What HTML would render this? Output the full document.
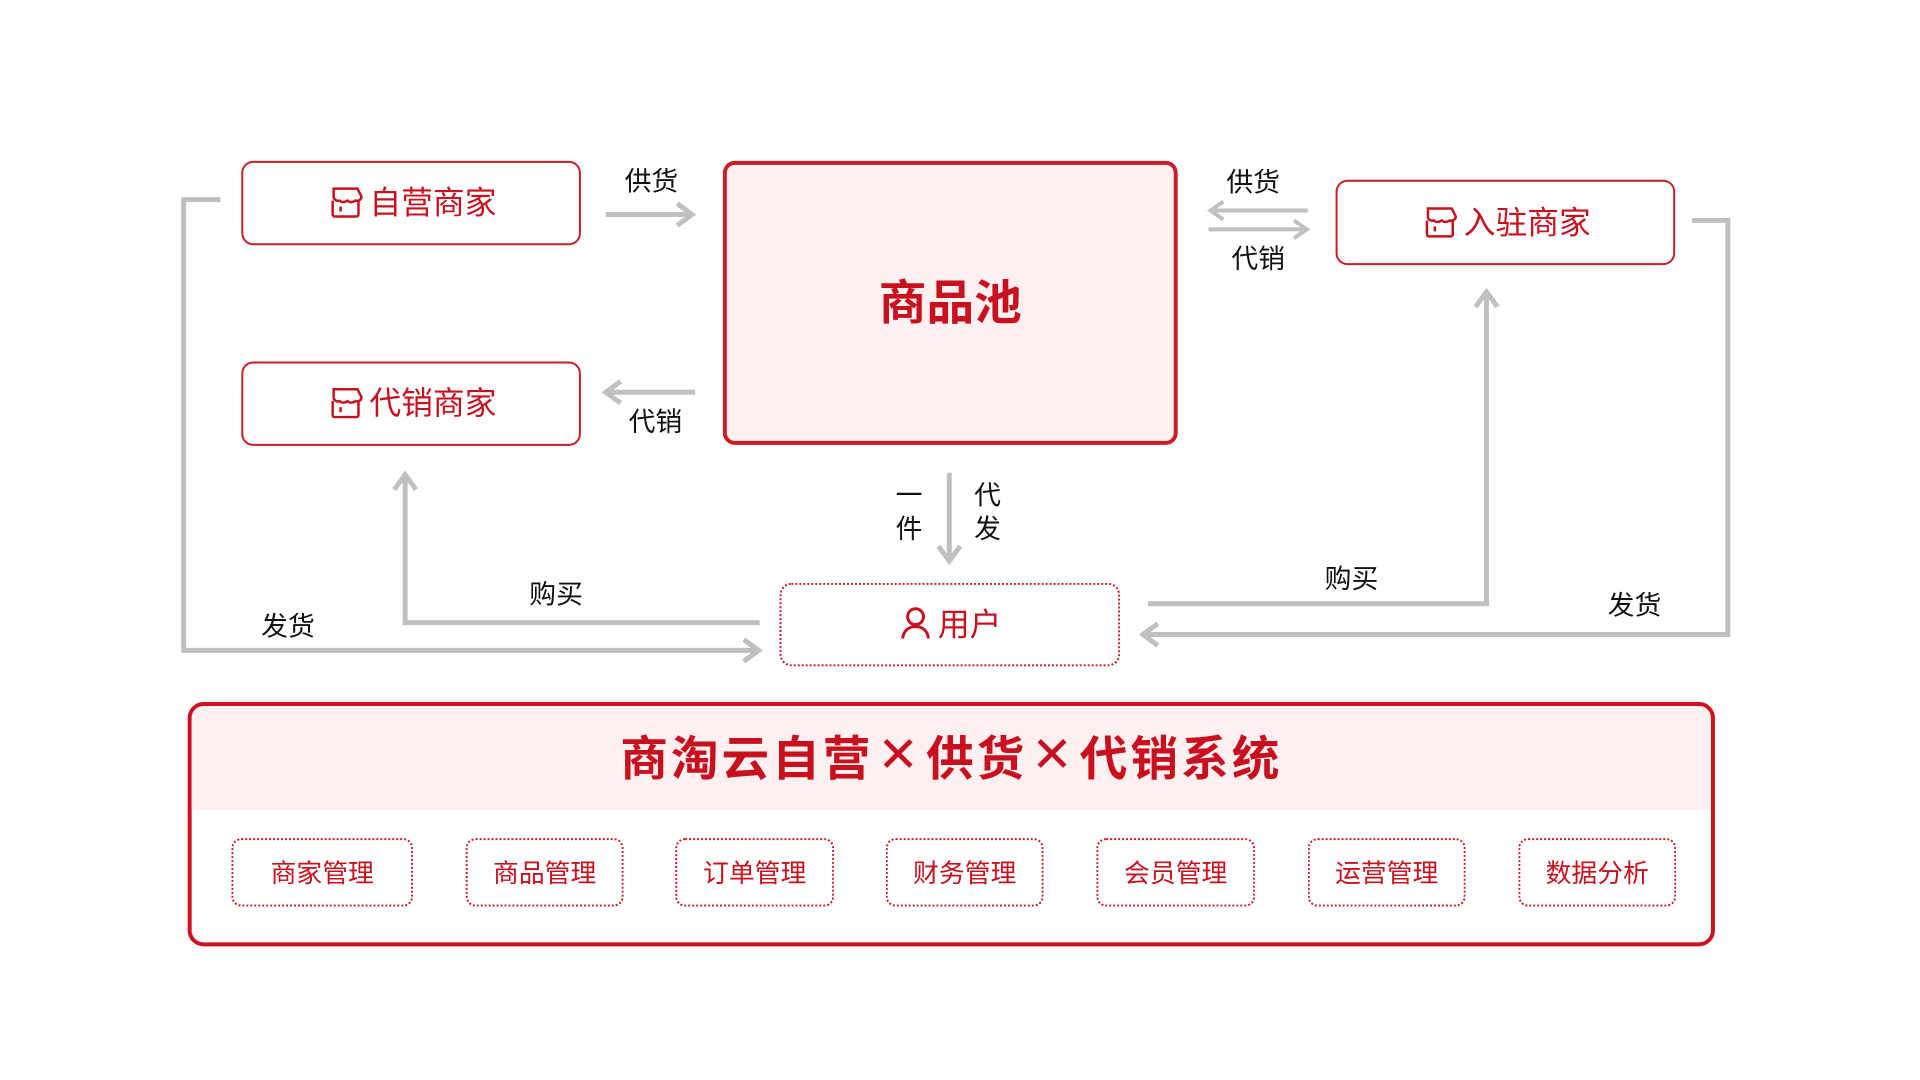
<!DOCTYPE html>
<html><head><meta charset="utf-8"><style>
html,body{margin:0;padding:0;background:#fff;}
#w{position:relative;width:1920px;height:1080px;overflow:hidden;}
#c{position:absolute;left:0;top:0;width:1920px;height:1080px;transform:scale(0.993);transform-origin:0 0;font-family:"Liberation Sans","Noto Sans CJK SC",sans-serif;}
.b{position:absolute;box-sizing:border-box;border:2px solid #c81e28;border-radius:12px;background:#fff;display:flex;align-items:center;justify-content:center;color:#c8101e;font-size:32px;padding-bottom:5px;}
.lb{position:absolute;font-size:27px;color:#111;line-height:1;white-space:nowrap;}
.sb{position:absolute;box-sizing:border-box;border:2px dotted #c81e28;border-radius:10px;display:flex;align-items:center;justify-content:center;color:#c8101e;font-size:26px;top:844px;height:69px;padding-bottom:3px;}
svg.ic{margin-right:4px}
</style></head><body><div id="w"><div id="c">
<svg width="1920" height="1080" style="position:absolute;left:0;top:0" fill="none" stroke="#c0c0c0" stroke-width="5">
<line x1="610" y1="216" x2="695" y2="216"/><polyline points="682,205 697,216 682,227"/>
<line x1="700" y1="395" x2="612" y2="395"/><polyline points="625,384 610,395 625,406"/>
<line x1="1317" y1="212" x2="1220" y2="212" stroke-width="4"/><polyline points="1232,203 1219,212 1232,221" stroke-width="4"/>
<line x1="1217" y1="231" x2="1315" y2="231" stroke-width="4"/><polyline points="1303,222 1316,231 1303,240" stroke-width="4"/>
<line x1="956" y1="476" x2="956" y2="563"/><polyline points="945,550 956,565 967,550"/>
<polyline points="222,201 185,201 185,655 762,655"/><polyline points="749,644 764,655 749,666"/>
<polyline points="765,627 408,627 408,480"/><polyline points="397,493 408,478 419,493"/>
<polyline points="1156,608 1497,608 1497,296"/><polyline points="1486,309 1497,294 1508,309"/>
<polyline points="1704,222 1740,222 1740,639 1153,639"/><polyline points="1166,628 1151,639 1166,650"/>
</svg>
<div class="b" style="left:243px;top:162px;width:342px;height:85px"><svg class="ic" width="40" height="40" viewBox="0 0 40 40" fill="none" stroke="#c8101e" stroke-width="2.5"><path d="M8 8h24l4 8c0 3-3 5-6 4-3 2-6 2-8 0-3 2-6 2-8 0-3 1-6-1-6-4z"/><path d="M7 20v14a2 2 0 0 0 2 2h22a2 2 0 0 0 2-2V20"/><line x1="15" y1="26" x2="15" y2="31"/></svg>自营商家</div>
<div class="b" style="left:243px;top:364px;width:342px;height:85px"><svg class="ic" width="40" height="40" viewBox="0 0 40 40" fill="none" stroke="#c8101e" stroke-width="2.5"><path d="M8 8h24l4 8c0 3-3 5-6 4-3 2-6 2-8 0-3 2-6 2-8 0-3 1-6-1-6-4z"/><path d="M7 20v14a2 2 0 0 0 2 2h22a2 2 0 0 0 2-2V20"/><line x1="15" y1="26" x2="15" y2="31"/></svg>代销商家</div>
<div class="b" style="left:1345px;top:181px;width:342px;height:86px"><svg class="ic" width="40" height="40" viewBox="0 0 40 40" fill="none" stroke="#c8101e" stroke-width="2.5"><path d="M8 8h24l4 8c0 3-3 5-6 4-3 2-6 2-8 0-3 2-6 2-8 0-3 1-6-1-6-4z"/><path d="M7 20v14a2 2 0 0 0 2 2h22a2 2 0 0 0 2-2V20"/><line x1="15" y1="26" x2="15" y2="31"/></svg>入驻商家</div>
<div class="b" style="left:728px;top:162px;width:458px;height:286px;border-width:4px;background:#fcf0f1;font-size:48px;font-weight:bold;padding-bottom:8px;">商品池</div>
<div class="b" style="left:785px;top:587px;width:343px;height:84px;border:2px dotted #c81e28;"><svg class="ic" width="36" height="36" viewBox="0 0 36 36" fill="none" stroke="#c8101e" stroke-width="3"><circle cx="18" cy="12" r="8"/><path d="M5 34c1-8 6-12 13-12s12 4 13 12"/></svg>用户</div>
<div class="lb" style="left:629px;top:170px">供货</div>
<div class="lb" style="left:633px;top:412px">代销</div>
<div class="lb" style="left:1235px;top:171px">供货</div>
<div class="lb" style="left:1240px;top:248px">代销</div>
<div class="lb" style="left:902px;top:486px">一</div>
<div class="lb" style="left:902px;top:520px">件</div>
<div class="lb" style="left:981px;top:486px">代</div>
<div class="lb" style="left:981px;top:520px">发</div>
<div class="lb" style="left:263px;top:618px">发货</div>
<div class="lb" style="left:533px;top:586px">购买</div>
<div class="lb" style="left:1334px;top:570px">购买</div>
<div class="lb" style="left:1619px;top:597px">发货</div>
<div style="position:absolute;left:189px;top:707px;width:1538px;height:246px;box-sizing:border-box;border:4px solid #d0101e;border-radius:16px;overflow:hidden;background:#fff;">
<div style="height:104px;background:#fcf0f1;display:flex;align-items:center;justify-content:center;color:#c8101e;font-size:48px;font-weight:bold;letter-spacing:3px;padding-bottom:6px;box-sizing:border-box;">商淘云自营<span style="font-weight:normal;font-size:50px;margin:0 4px">✕</span>供货<span style="font-weight:normal;font-size:50px;margin:0 4px">✕</span>代销系统</div>
</div>
<div class="sb" style="left:233px;width:183px">商家管理</div>
<div class="sb" style="left:469px;width:159px">商品管理</div>
<div class="sb" style="left:680px;width:160px">订单管理</div>
<div class="sb" style="left:892px;width:159px">财务管理</div>
<div class="sb" style="left:1104px;width:160px">会员管理</div>
<div class="sb" style="left:1317px;width:159px">运营管理</div>
<div class="sb" style="left:1529px;width:159px">数据分析</div>
</div></div></body></html>
